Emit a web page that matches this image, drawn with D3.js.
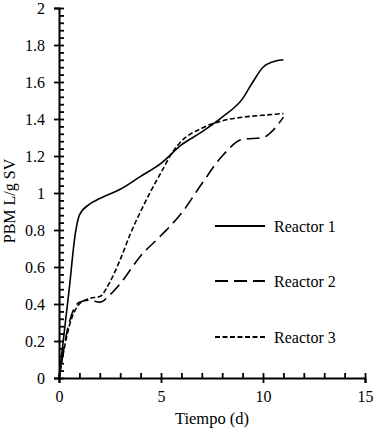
<!DOCTYPE html>
<html>
<head>
<meta charset="utf-8">
<script src="https://cdn.jsdelivr.net/npm/d3@7"></script>
</head>
<body style="margin:0">
<div id="chart"></div>
<script>
const width = 377;
const height = 434;
const margins = { top: 8, left: 59, bottom: 56, right: 12 };
const innerW = width - margins.left - margins.right;
const innerH = height - margins.top - margins.bottom;
const fontFamily = 'Liberation Serif';

// values
const reactor1Days = [0, 0.5, 0.8, 1, 1.5, 2, 3, 4, 5, 6, 7, 8, 9, 9.5, 10, 10.5, 11];
const reactor1Pbm = [0, 0.48, 0.78, 0.88, 0.94, 0.97, 1.02, 1.09, 1.16, 1.26, 1.33, 1.41, 1.51, 1.6, 1.68, 1.71, 1.72];
const reactor2Days = [0, 0.5, 1, 1.5, 2, 2.5, 3, 4, 5, 6, 7, 8, 9, 10, 10.5, 11];
const reactor2Pbm = [0, 0.3, 0.41, 0.42, 0.41, 0.45, 0.51, 0.66, 0.77, 0.89, 1.05, 1.2, 1.29, 1.3, 1.34, 1.41];
const reactor3Days = [0, 0.5, 1, 1.5, 2, 2.5, 3, 3.5, 4, 4.5, 5, 5.5, 6, 7, 8, 9, 10, 11];
const reactor3Pbm = [0, 0.28, 0.4, 0.43, 0.44, 0.52, 0.64, 0.78, 0.9, 1.01, 1.11, 1.21, 1.28, 1.35, 1.39, 1.41, 1.42, 1.43];
const seriesNames = ['Reactor 1', 'Reactor 2', 'Reactor 3'];
const xTicks = [0, 5, 10, 15];
const yTicks = ['0', '0.2', '0.4', '0.6', '0.8', '1', '1.2', '1.4', '1.6', '1.8', '2'];

const dashes = [null, '13,6', '5,2.5'];
const series = [
    { name: seriesNames[0], days: reactor1Days, pbm: reactor1Pbm },
    { name: seriesNames[1], days: reactor2Days, pbm: reactor2Pbm },
    { name: seriesNames[2], days: reactor3Days, pbm: reactor3Pbm }
];

const svg = d3.select('#chart')
    .append('svg')
    .attr('width', width)
    .attr('height', height)
    .attr('font-family', fontFamily);

svg.append('rect').attr('width', width).attr('height', height).attr('fill', '#fff');

const g = svg.append('g')
    .attr('transform', `translate(${margins.left},${margins.top})`);

const x = d3.scaleLinear().domain([0, 15]).range([0, innerW]);
const y = d3.scaleLinear().domain([0, 2]).range([innerH, 0]);

// minor ticks (inside only)
const xMinor = d3.range(0, 16, 1);
const yMinor = d3.range(0, 2.001, 0.04);

g.append('g')
    .attr('class', 'minor')
    .attr('transform', `translate(0,${innerH})`)
    .call(d3.axisTop(x).tickValues(xMinor).tickSize(5).tickFormat(''));

g.append('g')
    .attr('class', 'minor')
    .call(d3.axisRight(y).tickValues(yMinor).tickSize(5).tickFormat(''));

// major ticks (both sides) with labels
g.append('g')
    .attr('id', 'x-axis')
    .attr('transform', `translate(0,${innerH})`)
    .call(d3.axisBottom(x).tickValues(xTicks).tickSize(5).tickPadding(8).tickFormat(d3.format('d')));

g.append('g')
    .attr('id', 'y-axis')
    .call(d3.axisLeft(y).tickValues(yTicks.map(Number)).tickSize(5).tickPadding(9)
        .tickFormat((d, i) => yTicks[i]));

g.selectAll('#x-axis, #y-axis')
    .attr('font-family', fontFamily)
    .attr('font-size', 16);

g.selectAll('.tick text').attr('fill', '#000');
g.selectAll('.domain').attr('stroke', '#000').attr('stroke-width', 2);
g.selectAll('.tick line').attr('stroke', '#000').attr('stroke-width', 1.8);

// helper axes only add ticks
g.selectAll('.minor .domain').remove();

// lines
const line = d3.line()
    .x(d => x(d[0]))
    .y(d => y(d[1]))
    .curve(d3.curveMonotoneX);

series.forEach((s, i) => {
    g.append('path')
        .datum(s.days.map((d, j) => [d, s.pbm[j]]))
        .attr('fill', 'none')
        .attr('stroke', '#000')
        .attr('stroke-width', 1.6)
        .attr('stroke-dasharray', dashes[i])
        .attr('d', line);
});

// legend
const legendY = [226, 281, 337];
const legend = svg.append('g').attr('id', 'legend');
series.forEach((s, i) => {
    legend.append('line')
        .attr('x1', 215).attr('x2', 265)
        .attr('y1', legendY[i]).attr('y2', legendY[i])
        .attr('stroke', '#000')
        .attr('stroke-width', 2)
        .attr('stroke-dasharray', dashes[i]);
    legend.append('text')
        .attr('x', 274)
        .attr('y', legendY[i])
        .attr('dy', '0.35em')
        .attr('font-family', fontFamily)
        .attr('font-size', 16)
        .text(s.name);
});

// axis titles
svg.append('text')
    .attr('x', margins.left + x(7.5))
    .attr('y', 424)
    .attr('text-anchor', 'middle')
    .attr('font-family', fontFamily)
    .attr('font-size', 16.5)
    .text('Tiempo (d)');

svg.append('text')
    .attr('transform', `translate(15,${margins.top + innerH / 2 + 8}) rotate(-90)`)
    .attr('text-anchor', 'middle')
    .attr('font-family', fontFamily)
    .attr('font-size', 16)
    .text('PBM L/g SV');
</script>
</body>
</html>
